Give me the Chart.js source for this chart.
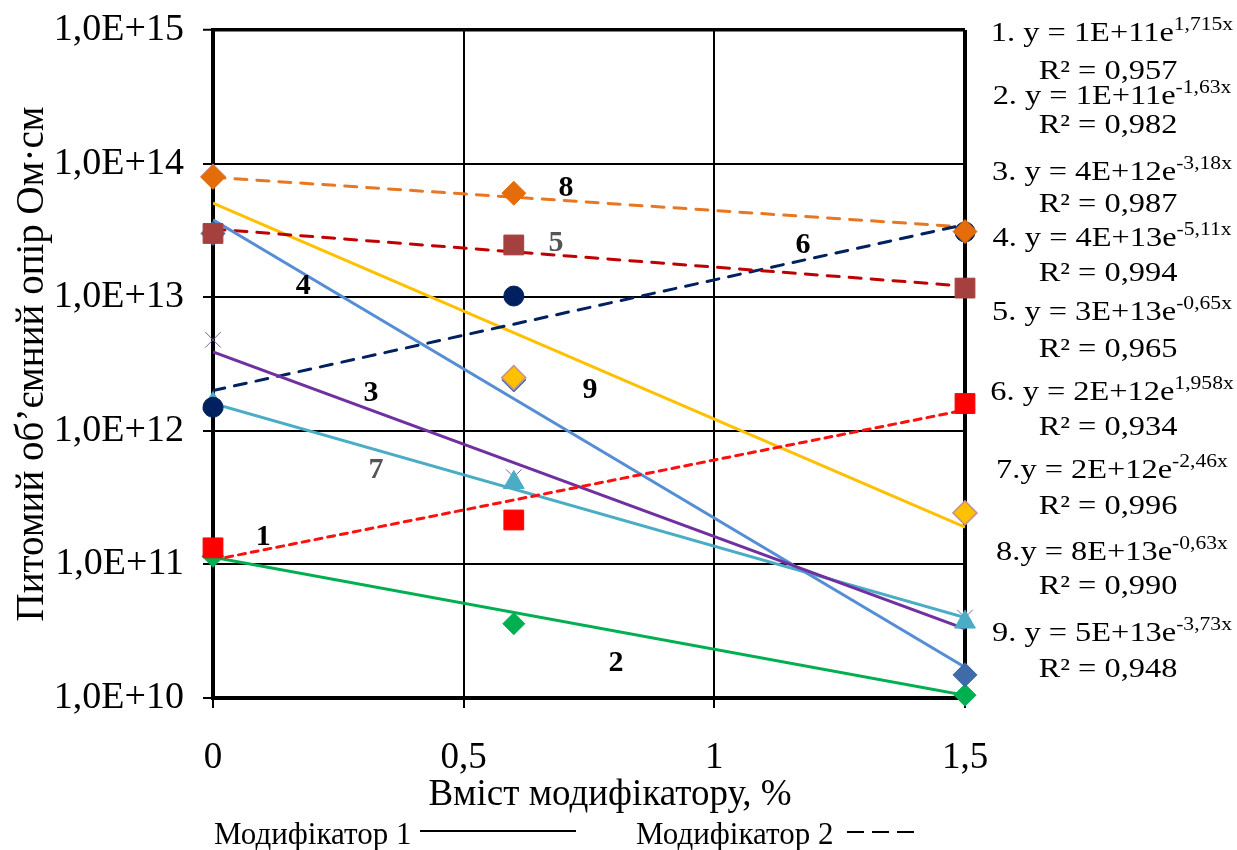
<!DOCTYPE html>
<html>
<head>
<meta charset="utf-8">
<script src="https://cdn.jsdelivr.net/npm/chart.js@4.4.1/dist/chart.umd.min.js"></script>
<style>
  html, body { margin: 0; padding: 0; background: #fff; }
</style>
</head>
<body>
<canvas id="myChart" width="1237" height="850"></canvas>
<script>
// measured points (x = вміст модифікатору, %)
const xPoints = [0, 0.6, 1.5];
const series1 = [1.33e11, 2.15e11, 1.6e12];
const series2 = [1.15e11, 3.6e10, 1.05e10];
const series3 = [4.8e12, 4.5e11, 4.0e10];
const series4 = [3.0e13, 2.4e12, 1.49e10];
const series5 = [3.0e13, 2.46e13, 1.17e13];
const series6 = [1.5e12, 1.02e13, 3.08e13];
const series7 = [1.6e12, 4.1e11, 3.7e10];
const series8 = [7.9e13, 6.0e13, 3.1e13];
const series9 = [8.0e13, 2.5e12, 2.43e11];

// trend lines, read at both ends of the axis
const trendX = [0, 1.5];
const trend1 = [1.08e11, 1.43e12];
const trend2 = [1.13e11, 1.05e10];
const trend3 = [3.9e12, 3.3e10];
const trend4 = [3.8e13, 1.7e10];
const trend5 = [3.24e13, 1.21e13];
const trend6 = [2.0e12, 3.5e13];
const trend7 = [1.6e12, 4.0e10];
const trend8 = [7.9e13, 3.35e13];
const trend9 = [5.07e13, 1.9e11];

const xTicks = [0, 0.5, 1, 1.5];
const yTicks = [1e10, 1e11, 1e12, 1e13, 1e14, 1e15];

// curve numbers inside the plot
const curveNames = ['1', '2', '3', '4', '5', '6', '7', '8', '9'];
const curveNameX = [0.1, 0.804, 0.315, 0.18, 0.684, 1.177, 0.325, 0.704, 0.752];
const curveNameY = [1.6e11, 1.83e10, 1.92e12, 1.21e13, 2.55e13, 2.46e13, 5.1e11, 6.56e13, 2.02e12];

// equations on the right
const eqMain = ['1. y = 1E+11e', '2. y = 1E+11e', '3. y = 4E+12e', '4. y = 4E+13e', '5. y = 3E+13e',
                '6. y = 2E+12e', '7.y = 2E+12e', '8.y = 8E+13e', '9. y = 5E+13e'];
const eqPow = ['1,715x', '-1,63x', '-3,18x', '-5,11x', '-0,65x', '1,958x', '-2,46x', '-0,63x', '-3,73x'];
const eqR2 = ['0,957', '0,982', '0,987', '0,994', '0,965', '0,934', '0,996', '0,990', '0,948'];

const serif = '"Liberation Serif", "Times New Roman", serif';
Chart.defaults.font.family = serif;
Chart.defaults.color = '#000';

const pts = (xs, ys) => xs.map((x, i) => ({ x: x, y: ys[i] }));

function trend(data, color, dash) {
  return {
    data: pts(trendX, data), borderColor: color, borderWidth: 3, borderDash: dash || [],
    borderCapStyle: dash ? 'round' : 'butt', pointRadius: 0, showLine: true, order: 10, fill: false
  };
}
function marks(data, style, fill, radius, stroke) {
  return {
    data: pts(xPoints, data), showLine: false, pointStyle: style, pointRadius: radius,
    backgroundColor: fill, borderColor: stroke || fill, borderWidth: stroke ? 1.5 : 1,
    order: 0, clip: false
  };
}

const eqPlugin = {
  id: 'eqPlugin',
  afterDatasetsDraw(chart) {
    const { ctx, scales: { x, y } } = chart;
    ctx.save();
    ctx.font = 'bold 30px ' + serif;
    ctx.textAlign = 'center';
    ctx.textBaseline = 'middle';
    curveNames.forEach((t, i) => {
      ctx.fillStyle = (t === '5' || t === '7') ? '#555' : '#000';
      ctx.fillText(t, x.getPixelForValue(curveNameX[i]), y.getPixelForValue(curveNameY[i]));
    });
    ctx.restore();
  },
  afterDraw(chart) {
    const ctx = chart.ctx;
    const eqBase = [41, 104, 180, 246, 320, 400, 478, 560, 641];
    const rBase = [79, 133, 212, 281, 357, 435, 514, 594, 677];
    ctx.save();
    ctx.fillStyle = '#000';
    ctx.textBaseline = 'alphabetic';
    ctx.textAlign = 'left';
    const big = '27px ' + serif, small = '18px ' + serif, sx = 1.2;
    eqMain.forEach((t, i) => {
      ctx.font = big; const w1 = ctx.measureText(t).width;
      ctx.font = small; const w2 = ctx.measureText(eqPow[i]).width;
      ctx.save();
      ctx.translate(1112, eqBase[i]);
      ctx.scale(sx, 1);
      const x0 = -(w1 + w2) / 2;
      ctx.font = big; ctx.fillText(t, x0, 0);
      ctx.font = small; ctx.fillText(eqPow[i], x0 + w1, -11);
      ctx.restore();
      const r = 'R² = ' + eqR2[i];
      ctx.save();
      ctx.translate(1108, rBase[i]);
      ctx.scale(sx, 1);
      ctx.font = big;
      ctx.fillText(r, -ctx.measureText(r).width / 2, 0);
      ctx.restore();
    });
    // x axis title
    ctx.font = '37px ' + serif;
    ctx.textAlign = 'center';
    ctx.textBaseline = 'middle';
    ctx.fillText('Вміст модифікатору, %', 610, 795);
    // bottom key
    ctx.textAlign = 'left';
    ctx.textBaseline = 'alphabetic';
    ctx.font = '31px ' + serif;
    ctx.fillText('Модифікатор 1', 214, 844);
    ctx.fillText('Модифікатор 2', 636, 844);
    ctx.strokeStyle = '#000';
    ctx.lineWidth = 2;
    ctx.beginPath(); ctx.moveTo(420, 831); ctx.lineTo(576, 831); ctx.stroke();
    [847, 872, 897].forEach(d => { ctx.beginPath(); ctx.moveTo(d, 832); ctx.lineTo(d + 17, 832); ctx.stroke(); });
    ctx.restore();
  }
};

new Chart(document.getElementById('myChart'), {
  type: 'scatter',
  data: {
    datasets: [
      trend(trend1, '#FF1010', [7, 6]),
      trend(trend2, '#00B050'),
      trend(trend3, '#7030A0'),
      trend(trend4, '#558ED5'),
      trend(trend5, '#C00000', [12, 10]),
      trend(trend6, '#002060', [12, 10]),
      trend(trend7, '#4BACC6'),
      trend(trend8, '#E87722', [12, 10]),
      trend(trend9, '#FFC000'),
      // lower index is painted on top
      marks(series8, 'rectRot', '#E46C0A', 12),
      marks(series6, 'circle', '#002060', 10),
      marks(series5, 'rect', '#A5403E', 14),
      marks(series1, 'rect', '#FF0000', 14),
      marks(series9, 'rectRot', '#FFC000', 12, '#C89090'),
      marks(series4, 'rectRot', '#3F6BA8', 12),
      marks(series2, 'rectRot', '#00B050', 11),
      marks(series7, 'triangle', '#4BACC6', 12),
      marks(series3, 'crossRot', '#7F5FA0', 11)
    ]
  },
  options: {
    responsive: false,
    animation: false,
    layout: { padding: { left: 9, right: 272, top: 30, bottom: 34 } },
    plugins: { legend: { display: false }, tooltip: { enabled: false } },
    scales: {
      x: {
        type: 'linear', min: 0, max: 1.5,
        afterBuildTicks: s => { s.ticks = xTicks.map(v => ({ value: v })); },
        afterFit: s => { s.height = 118; },
        ticks: { font: { size: 37 }, padding: 28, color: '#000',
                 callback: v => String(v).replace('.', ',') },
        grid: { color: '#000', lineWidth: c => (c.tick && c.tick.value === 1.5) ? 4 : 2,
                tickLength: 10, tickColor: '#000', tickWidth: 2 },
        border: { color: '#000', width: 4 }
      },
      y: {
        type: 'logarithmic', min: 1e10, max: 1e15,
        afterBuildTicks: s => { s.ticks = yTicks.map(v => ({ value: v })); },
        afterFit: s => { s.width = 204; s.paddingTop = 10; s.paddingBottom = 10; },
        ticks: { font: { size: 38 }, padding: 19, color: '#000',
                 callback: v => '1,0E+' + Math.round(Math.log10(v)) },
        grid: { color: '#000', lineWidth: c => (c.tick && c.tick.value === 1e15) ? 3.5 : 2,
                tickLength: 10, tickColor: '#000', tickWidth: 2 },
        border: { color: '#000', width: 4 },
        title: { display: true, text: 'Питомий об’ємний опір Ом·см', font: { size: 39 }, padding: 0, color: '#000' }
      }
    }
  },
  plugins: [eqPlugin]
});
</script>
</body>
</html>
